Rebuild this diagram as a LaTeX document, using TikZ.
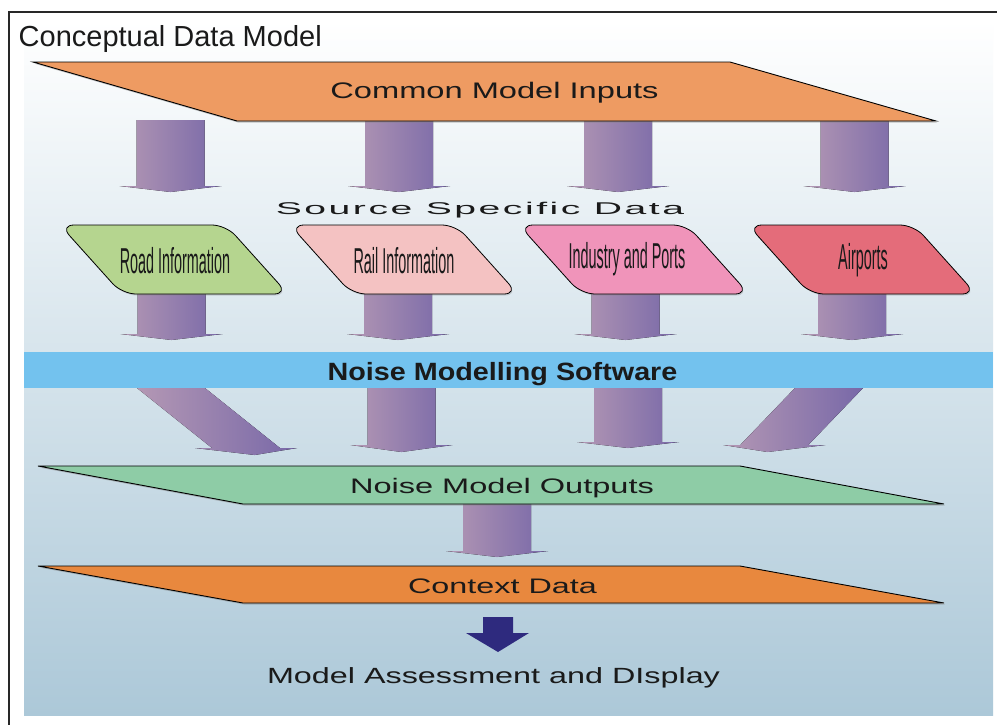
\documentclass[tikz,border=0pt]{standalone}
\usepackage{fontspec}
\setmainfont{Liberation Sans}
\usetikzlibrary{shadows}
\definecolor{txt}{RGB}{26,26,26}
\definecolor{frm}{RGB}{40,40,40}
\definecolor{bgM}{RGB}{214,227,236}
\definecolor{bgB}{RGB}{172,200,216}
\definecolor{arrL}{RGB}{180,152,180}
\definecolor{arrR}{RGB}{120,104,168}
\definecolor{orA}{RGB}{238,155,98}
\definecolor{orB}{RGB}{232,136,62}
\definecolor{grn}{RGB}{142,204,166}
\definecolor{road}{RGB}{181,213,143}
\definecolor{rail}{RGB}{244,194,194}
\definecolor{indu}{RGB}{240,148,186}
\definecolor{airp}{RGB}{228,108,122}
\definecolor{nbar}{RGB}{115,194,238}
\definecolor{darr}{RGB}{46,42,126}
\newcommand\fatarrow[5]{% cx, ytop, yhead, ytip, shear
  \pgfmathsetmacro\faH{#5*(#3-#2)}%
  \pgfmathsetmacro\faT{#5*(#4-#2)}%
  \pgfmathsetmacro\faa{#1-34}%
  \pgfmathsetmacro\fab{#1+34}%
  \pgfmathsetmacro\fac{#1+34+\faH}%
  \pgfmathsetmacro\fad{#1+51+\faH}%
  \pgfmathsetmacro\fae{#1+\faT}%
  \pgfmathsetmacro\faf{#1-51+\faH}%
  \pgfmathsetmacro\fag{#1-34+\faH}%
  \fill[fatarr] (\faa,#2) -- (\fab,#2) -- (\fac,#3) -- (\fad,#3) -- (\fae,#4) -- (\faf,#3) -- (\fag,#3) -- cycle;
}
\begin{document}
\begin{tikzpicture}[x=1pt,y=-1pt,
  fatarr/.style={left color=arrL,right color=arrR},
  plate/.style={draw=black,line width=0.9pt,line join=miter,
    drop shadow={shadow xshift=1pt,shadow yshift=-1.5pt,opacity=0.45}},
  srcbox/.style={draw=black,line width=0.8pt,rounded corners=14pt,
    drop shadow={shadow xshift=1pt,shadow yshift=-1.5pt,opacity=0.3}},
  lbl/.style={text=txt,inner sep=0pt,anchor=base},
  srclbl/.style={lbl,font=\fontsize{36}{38}\selectfont},
]
\useasboundingbox (0,0) rectangle (997,724);
\fill[white] (0,0) rectangle (997,724);
% background
\shade[top color=white,middle color=bgM,bottom color=bgB] (24,20) rectangle (993,715);
\draw[frm,line width=1.6pt] (9,740) -- (9,12) -- (1010,12);
\node[lbl,anchor=base west,font=\fontsize{29}{31}\selectfont] (title) at (18.5,46.5) {Conceptual Data Model};

% arrows row 1
\fatarrow{170.5}{120}{186}{192}{0}
\fatarrow{399}{120}{186}{192}{0}
\fatarrow{618}{120}{186}{192}{0}
\fatarrow{854.5}{120}{186}{192}{0}
% arrows row 2
\fatarrow{171.5}{292}{334}{340}{0}
\fatarrow{398}{292}{334}{340}{0}
\fatarrow{625.5}{292}{334}{340}{0}
\fatarrow{852}{292}{334}{340}{0}
% arrows row 3
\fatarrow{171}{388}{448}{455}{1.25}
\fatarrow{401.5}{388}{445}{452}{0}
\fatarrow{628}{388}{442}{448}{0}
\fatarrow{829}{388}{445}{452}{-0.96}
% arrow row 4
\fatarrow{497}{503}{551}{557}{0}

% top plate
\path[plate,fill=orA] (33,62) -- (730,62) -- (936,121) -- (237,121) -- cycle;
\node[lbl,font=\fontsize{22.5}{24}\selectfont] (cmi) at (494.5,98) {\scalebox{1.45}[1]{Common Model Inputs}};

\node[lbl,font=\fontsize{17}{18}\selectfont\addfontfeature{LetterSpace=6.5}] (ssd) at (480,214) {\scalebox{2.3}[1]{Source Specific Data}};

% source boxes
\path[srcbox,fill=road] (60,225) -- (226,225) -- (288,294) -- (122,294) -- cycle;
\path[srcbox,fill=rail] (290,225) -- (456,225) -- (518,294) -- (352,294) -- cycle;
\path[srcbox,fill=indu] (519,225) -- (687,225) -- (749,294) -- (581,294) -- cycle;
\path[srcbox,fill=airp] (748,225) -- (914,225) -- (976,294) -- (810,294) -- cycle;
\node[srclbl] (road) at (175,273) {\scalebox{0.4}[1]{Road Information}};
\node[srclbl] (rail) at (404,273) {\scalebox{0.4}[1]{Rail Information}};
\node[srclbl] (indu) at (627,268) {\scalebox{0.4}[1]{Industry and Ports}};
\node[srclbl] (airp) at (863,269) {\scalebox{0.4}[1]{Airports}};

% noise bar
\fill[nbar] (24,352) rectangle (993,388);
\node[lbl,font=\fontsize{25}{27}\selectfont\bfseries] (nms) at (502.5,380) {\scalebox{1.15}[1]{Noise Modelling Software}};

% outputs plate
\path[plate,fill=grn] (38,466) -- (740,466) -- (944,504) -- (243,504) -- cycle;
\node[lbl,font=\fontsize{21}{23}\selectfont] (nmo) at (502,493) {\scalebox{1.55}[1]{Noise Model Outputs}};

% context plate
\path[plate,fill=orB] (38,566) -- (740,566) -- (944,603) -- (243,603) -- cycle;
\node[lbl,font=\fontsize{21}{23}\selectfont] (ctx) at (502.5,593) {\scalebox{1.54}[1]{Context Data}};

% dark arrow
\fill[darr] (483,617) -- (513,617) -- (513,633) -- (529,633) -- (498,652) -- (466,633) -- (483,633) -- cycle;
\node[lbl,font=\fontsize{22}{24}\selectfont] (mad) at (493.5,683) {\scalebox{1.47}[1]{Model Assessment and DIsplay}};
\end{tikzpicture}
\end{document}
